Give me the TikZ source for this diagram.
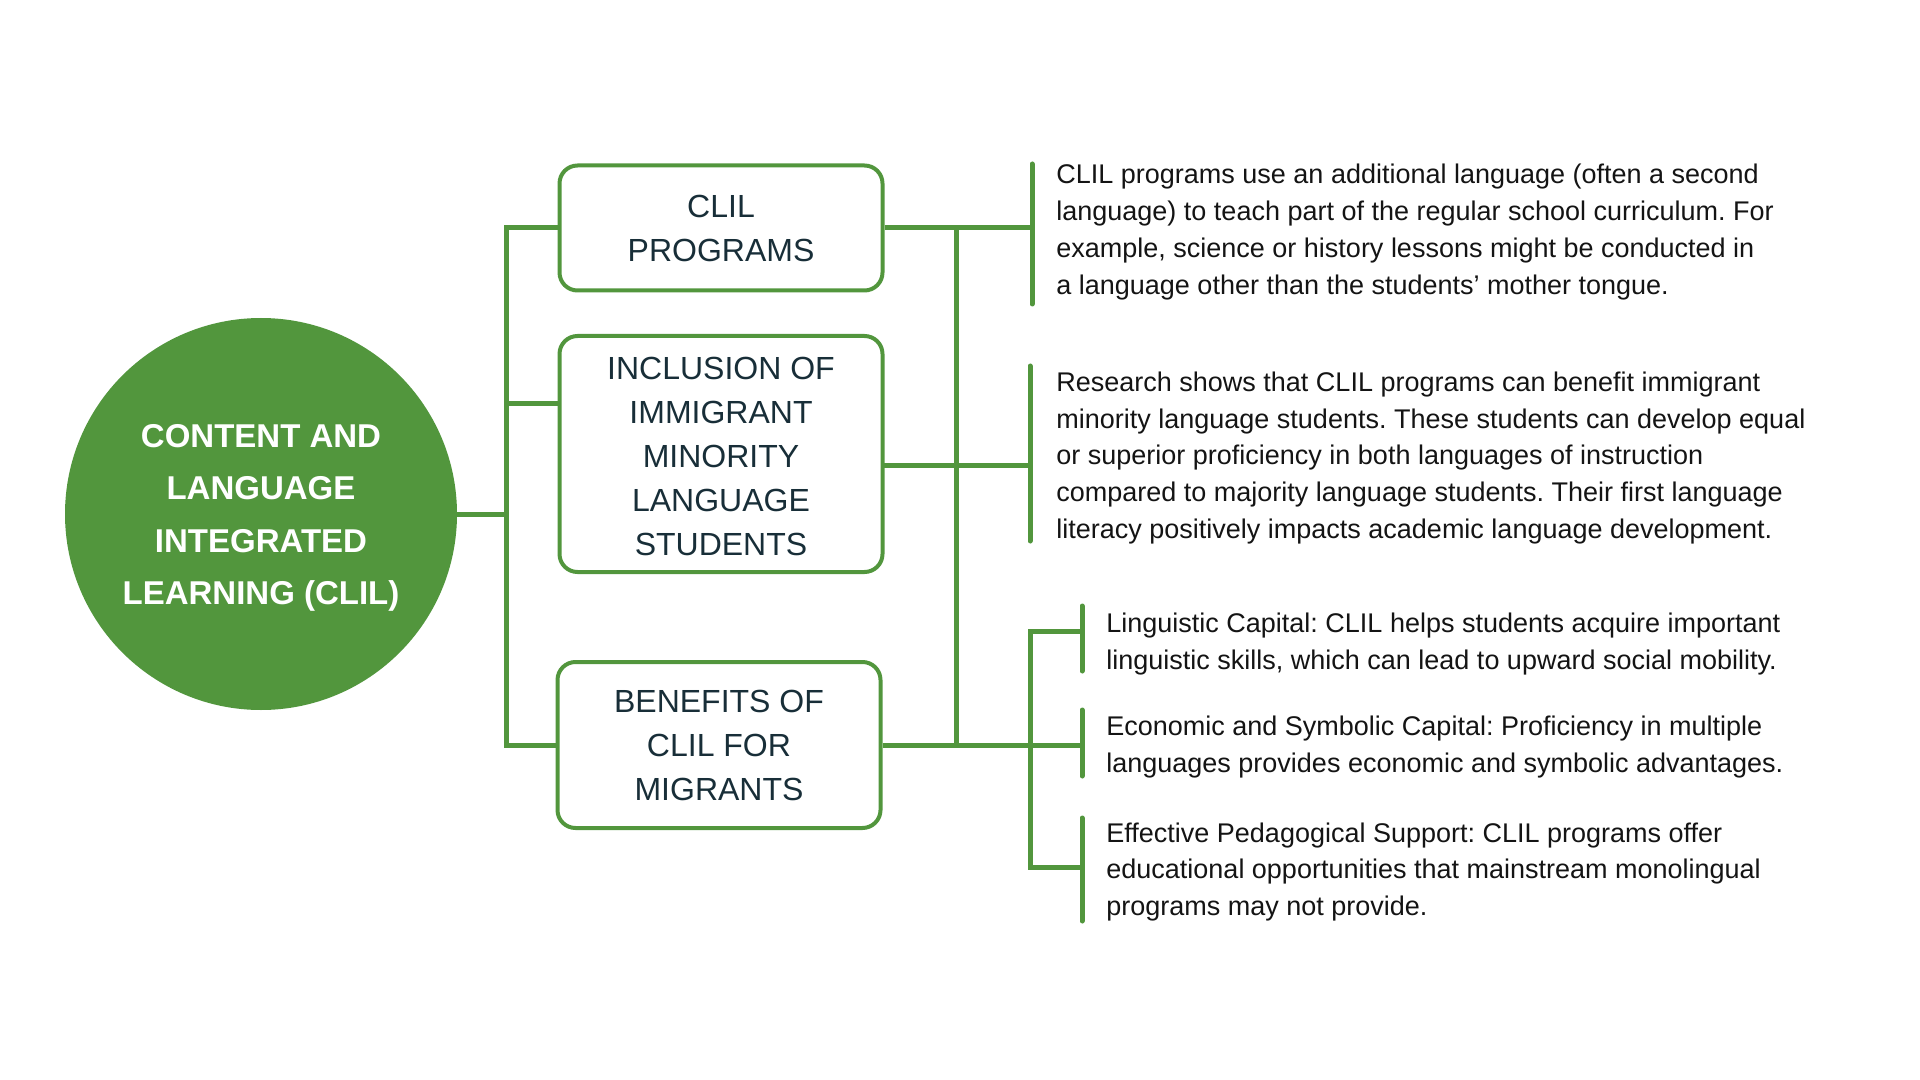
\documentclass[tikz,border=0pt]{standalone}
\usepackage{fontspec}
\setmainfont{Liberation Sans}
\frenchspacing
\definecolor{clilgreen}{RGB}{82,150,61}
\definecolor{boxtext}{RGB}{24,46,56}
\definecolor{infotext}{RGB}{20,20,20}

\begin{document}
\begin{tikzpicture}[x=0.5pt, y=-0.5pt,
                    main node/.style={circle, fill=clilgreen, minimum size=196pt, inner sep=0pt,
                                      text=white, align=center, font=\fontsize{16.5}{26.3}\selectfont\bfseries},
                    topic node/.style={draw=clilgreen, line width=2pt, rounded corners=9pt,
                                       minimum width=161.5pt, inner sep=0pt, align=center,
                                       text=boxtext, font=\fontsize{16}{22}\selectfont},
                    info node/.style={anchor=west, align=left, inner sep=0pt, text=infotext,
                                      font=\fontsize{13.5}{18.4}\selectfont},
                    link/.style={draw=clilgreen, line width=2.5pt},
                    bar/.style={draw=clilgreen, line width=2.5pt, line cap=round}]

  \useasboundingbox (0,0) rectangle (1920,1080);

  \node[main node] (clil) at (261,514) {\rule{0pt}{15.5pt}CONTENT AND\\LANGUAGE\\INTEGRATED\\LEARNING (CLIL)};

  \node[topic node, minimum height=62.5pt] (prog) at (721,228) {CLIL\\PROGRAMS};
  \node[topic node, minimum height=118pt] (incl) at (721,454) {\rule{0pt}{14pt}INCLUSION OF\\IMMIGRANT\\MINORITY\\LANGUAGE\\STUDENTS};
  \node[topic node, minimum height=83pt] (bene) at (719,745) {BENEFITS OF\\CLIL FOR\\MIGRANTS};

  \node[info node] (progtxt) at (1056,232) {CLIL programs use an additional language (often a second\\
    language) to teach part of the regular school curriculum. For\\
    example, science or history lessons might be conducted in\\
    a language other than the students’ mother tongue.};
  \node[info node] (incltxt) at (1056,458) {Research shows that CLIL programs can benefit immigrant\\
    minority language students. These students can develop equal\\
    or superior proficiency in both languages of instruction\\
    compared to majority language students. Their first language\\
    literacy positively impacts academic language development.};
  \node[info node] (cap1) at (1106,644) {Linguistic Capital: CLIL helps students acquire important\\
    linguistic skills, which can lead to upward social mobility.};
  \node[info node] (cap2) at (1106,747) {Economic and Symbolic Capital: Proficiency in multiple\\
    languages provides economic and symbolic advantages.};
  \node[info node] (cap3) at (1106,872) {Effective Pedagogical Support: CLIL programs offer\\
    educational opportunities that mainstream monolingual\\
    programs may not provide.};

  % trunks and bars
  \coordinate (lt) at (506,514);
  \coordinate (inclL) at (560,403);
  \coordinate (inclR) at (883,465);
  \coordinate (rt) at (956,228);
  \coordinate (bar1top) at (1032,164);
  \coordinate (bar1bot) at (1032,304);
  \coordinate (bar2top) at (1030,366);
  \coordinate (bar2bot) at (1030,541);
  \coordinate (sub1) at (1030,631);
  \coordinate (sub3) at (1030,867);
  \coordinate (c1) at (1082,631);
  \coordinate (c3) at (1082,867);

  \draw[link] (clil.east) -- (clil.east -| lt);
  \draw[link] (prog.west) -| (lt) |- (bene.west);
  \draw[link] (lt |- inclL) -- (inclL);

  \draw[link] (prog.east) -- (prog.east -| bar1top);
  \draw[link] (inclR) -- (inclR -| bar2top);
  \draw[link] (bene.east) -- (bene.east -| c1);
  \draw[link] (rt |- prog.east) -- (rt |- bene.east);
  \draw[link] (c1) -- (sub1) -- (sub3) -- (c3);

  \draw[bar] (bar1top) -- (bar1bot);
  \draw[bar] (bar2top) -- (bar2bot);
  \draw[bar] (1082,606) -- (1082,671);
  \draw[bar] (1082,710) -- (1082,776);
  \draw[bar] (1082,818) -- (1082,921);

\end{tikzpicture}
\end{document}
